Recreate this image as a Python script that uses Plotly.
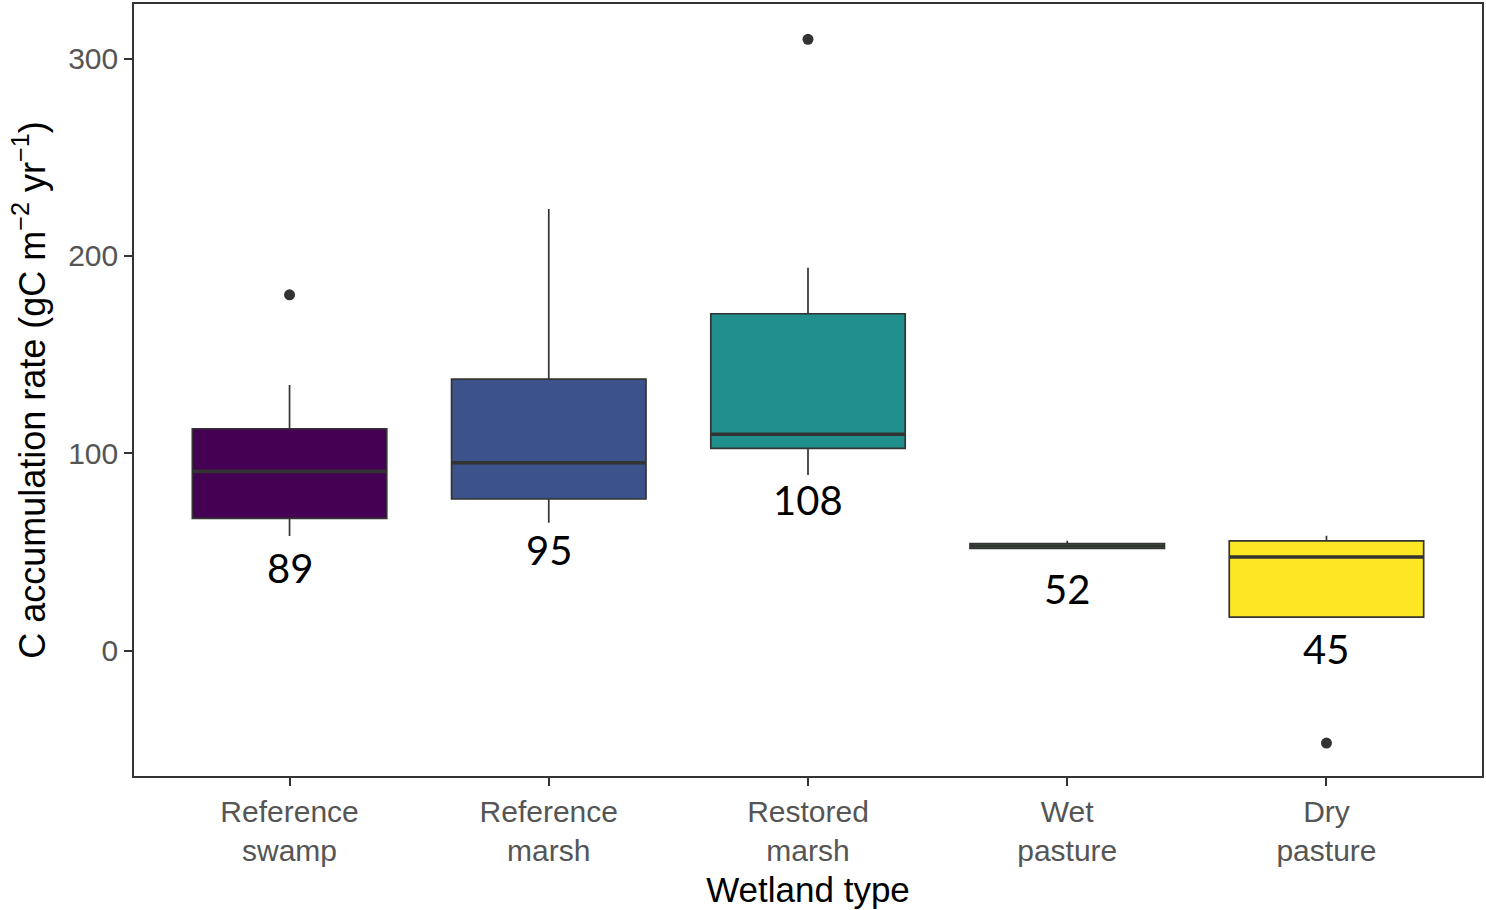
import plotly.graph_objects as go

categories = ["Reference swamp", "Reference marsh", "Restored marsh", "Wet pasture", "Dry pasture"]
tick_labels = ["Reference<br>swamp", "Reference<br>marsh", "Restored<br>marsh", "Wet<br>pasture", "Dry<br>pasture"]
q1 = [67.0, 76.8, 102.5, 51.8, 16.9]
median = [90.8, 95.2, 109.6, 53.0, 47.4]
q3 = [112.4, 137.6, 170.7, 54.2, 55.6]
lower_whisker = [58.0, 64.8, 89.0, 51.8, 16.9]
upper_whisker = [134.6, 223.8, 194.0, 55.7, 58.2]
outlier_category = ["Reference swamp", "Restored marsh", "Dry pasture"]
outlier_value = [180.3, 309.8, -46.9]
label_text = ["89", "95", "108", "52", "45"]
label_y = [42.0, 50.9, 76.3, 31.2, 0.6]
fill_colors = ["#440154", "#3B528B", "#21908C", "#5DC863", "#FDE725"]

fig = go.Figure()
for i, c in enumerate(categories):
    fig.add_trace(go.Box(
        x=[c], q1=[q1[i]], median=[median[i]], q3=[q3[i]],
        lowerfence=[lower_whisker[i]], upperfence=[upper_whisker[i]],
        fillcolor=fill_colors[i], line=dict(color="#333333", width=1.7),
        width=0.75, whiskerwidth=0, boxpoints=False, showlegend=False,
        hoverinfo="skip",
    ))
    # thicker median line
    fig.add_trace(go.Box(
        x=[c], q1=[median[i]], median=[median[i]], q3=[median[i]],
        lowerfence=[median[i]], upperfence=[median[i]],
        fillcolor="rgba(0,0,0,0)", line=dict(color="#333333", width=3.6),
        width=0.75, whiskerwidth=0, boxpoints=False, showlegend=False,
        hoverinfo="skip",
    ))

fig.add_trace(go.Scatter(
    x=outlier_category, y=outlier_value, mode="markers",
    marker=dict(color="#333333", size=11), showlegend=False, hoverinfo="skip",
))

for c, t, y in zip(categories, label_text, label_y):
    fig.add_annotation(x=c, y=y, text=t, showarrow=False,
                       font=dict(family="Lato", size=40, color="#000000"),
                       xanchor="center", yanchor="middle")

fig.update_layout(
    width=1486, height=910,
    margin=dict(l=134, r=2, t=3, b=134),
    paper_bgcolor="white", plot_bgcolor="white",
    boxmode="overlay",
    font=dict(family="Liberation Sans"),
)
fig.update_xaxes(
    type="category", categoryorder="array", categoryarray=categories,
    tickmode="array", tickvals=categories, ticktext=tick_labels,
    range=[-0.6, 4.6], showgrid=False, zeroline=False,
    showline=True, mirror=True, linecolor="#333333", linewidth=1.5,
    ticks="outside", ticklen=8, tickwidth=1.5, tickcolor="#333333",
    tickfont=dict(family="Liberation Sans", size=30, color="#555555"),
    title=dict(text="Wetland type", font=dict(family="Liberation Sans", size=35, color="#000000"), standoff=12),
)
fig.update_yaxes(
    range=[-63.6, 327.7], tickvals=[0, 100, 200, 300], showgrid=False, zeroline=False,
    showline=True, mirror=True, linecolor="#333333", linewidth=1.5,
    ticks="outside", ticklen=8, tickwidth=1.5, tickcolor="#333333",
    tickfont=dict(family="Liberation Sans", size=30, color="#555555"),
    title=dict(text="C accumulation rate (gC m<sup>\u22122</sup> yr<sup>\u22121</sup>)",
               font=dict(family="Liberation Sans", size=36, color="#000000"), standoff=12),
)

fig.write_html("out.html", config={"displayModeBar": False},
               post_script="document.body.style.margin='0';document.body.style.overflow='hidden';")
